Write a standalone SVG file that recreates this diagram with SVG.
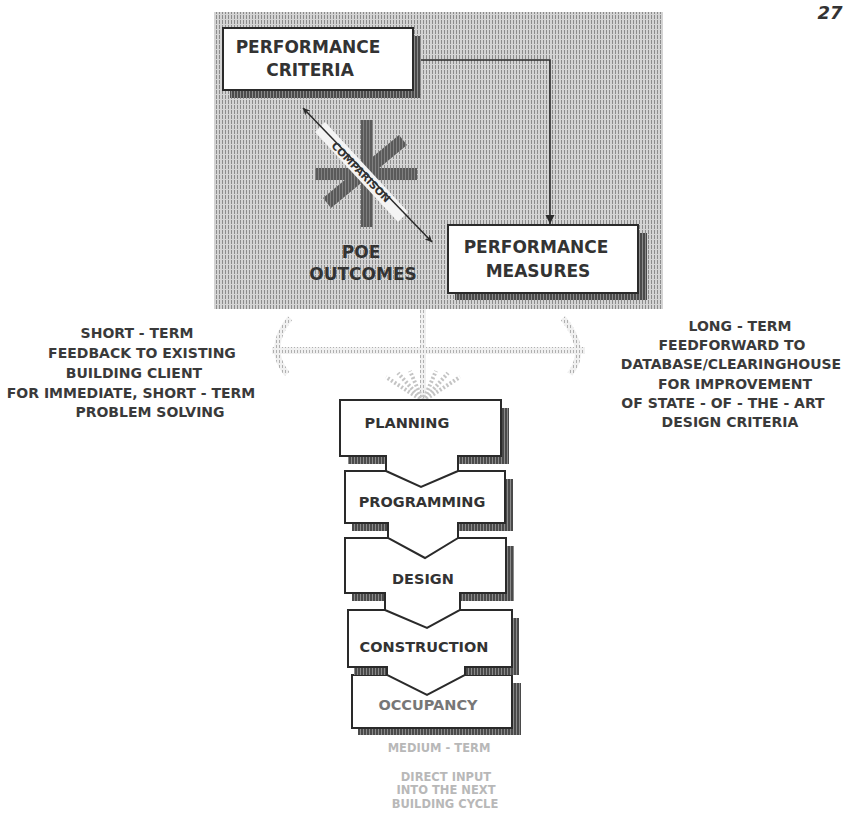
<svg xmlns="http://www.w3.org/2000/svg" width="860" height="815" viewBox="0 0 860 815">
<style>
.t{font-family:"DejaVu Sans","Liberation Sans",sans-serif;font-weight:bold;fill:#333;text-anchor:middle}
.box{fill:#fff;stroke:#2a2a2a;stroke-width:2}
.sh{fill:url(#dark)}
.side{font-size:14px;fill:#3a3a3a}
.big{font-size:17px}
.flow{font-size:14.5px}
.faint{font-size:11.5px;fill:#b8b8b8}
.lh{fill:url(#light)}
</style>
<defs>
<pattern id="hatch" width="3" height="5" patternUnits="userSpaceOnUse"><rect width="3" height="5" fill="#d4d4d4"/><rect width="1" height="4" fill="#8c8c8c"/></pattern>
<pattern id="dark" width="3" height="4" patternUnits="userSpaceOnUse"><rect width="3" height="4" fill="#4a4a4a"/><rect width="1" height="4" fill="#8a8a8a"/></pattern>
<pattern id="asterisk" width="3" height="4" patternUnits="userSpaceOnUse"><rect width="3" height="4" fill="#5a5a5a"/><rect width="1" height="4" fill="#808080"/></pattern>
<pattern id="light" width="3" height="5" patternUnits="userSpaceOnUse"><rect width="3" height="5" fill="#f0f0f0"/><rect width="1" height="3" fill="#b0b0b0"/></pattern>
<marker id="ah" viewBox="0 0 10 10" refX="10" refY="5" markerWidth="9" markerHeight="12" markerUnits="userSpaceOnUse" orient="auto"><path d="M0,0 L10,5 L0,10 Z" fill="#2a2a2a"/></marker>
<marker id="ah2" viewBox="0 0 10 10" refX="10" refY="5" markerWidth="12" markerHeight="7" markerUnits="userSpaceOnUse" orient="auto-start-reverse"><path d="M0,0 L10,5 L0,10 L3,5 Z" fill="#2a2a2a"/></marker>
</defs>
<rect width="860" height="815" fill="#fff"/>
<text x="830" y="19" style="font-family:'DejaVu Sans',sans-serif;font-weight:bold;font-style:italic;font-size:18px;fill:#333;text-anchor:middle">27</text>

<!-- hatched background -->
<rect id="poe-area" x="214" y="12" width="449" height="297" fill="url(#hatch)"/>

<!-- light hatched feedback shapes -->
<g id="feedback-shapes">
<rect class="lh" x="272" y="347" width="313" height="7"/>
<path d="M290,318 Q266,348 287,374" fill="none" stroke="url(#light)" stroke-width="6"/>
<path d="M563,318 Q589,350 570,374" fill="none" stroke="url(#light)" stroke-width="6"/>
<rect class="lh" x="420" y="309" width="6" height="92"/>
<path d="M423,401 L386,377 M423,401 L398,373 M423,401 L410,371 M423,401 L436,371 M423,401 L448,373 M423,401 L460,377" stroke="#c4c4c4" stroke-width="4" stroke-dasharray="2 2" fill="none"/>
</g>

<!-- asterisk -->
<g id="poe-symbol">
<rect x="361" y="120" width="12" height="107" fill="url(#asterisk)"/>
<rect x="315" y="168" width="102" height="12" fill="url(#asterisk)"/>
<polygon points="407,145 399,135 323,198 331,208" fill="url(#asterisk)"/>
</g>

<g id="comparison">
<polygon points="325,122 408,212 398,222 315,132" fill="#f4f4f4"/>
<line x1="303" y1="108" x2="432" y2="242" stroke="#2a2a2a" stroke-width="1.5" marker-start="url(#ah2)" marker-end="url(#ah2)"/>
<text class="t" transform="translate(361,172) rotate(46)" x="0" y="3.8" style="font-size:10.5px">COMPARISON</text>
</g>

<g id="connectors">
<path d="M413,60 H550 V224" fill="none" stroke="#2a2a2a" stroke-width="1.6" marker-end="url(#ah)"/>
</g>

<g id="performance-criteria">
<polygon class="sh" points="413,36 421,36 421,98 230,98 230,90 413,90"/>
<rect class="box" x="223" y="28" width="190" height="62"/>
<text class="t big" x="308" y="53">PERFORMANCE</text>
<text class="t big" x="310" y="76">CRITERIA</text>
</g>

<g id="performance-measures">
<polygon class="sh" points="638,233 647,233 647,300 455,300 455,293 638,293"/>
<rect class="box" x="448" y="225" width="190" height="68"/>
<text class="t big" x="536" y="253">PERFORMANCE</text>
<text class="t big" x="538" y="277">MEASURES</text>
</g>

<g id="poe-outcomes">
<text class="t big" x="361" y="258">POE</text>
<text class="t big" x="363" y="280">OUTCOMES</text>
</g>

<g id="short-term">
<text class="t side" x="137" y="338">SHORT - TERM</text>
<text class="t side" x="142" y="358">FEEDBACK TO EXISTING</text>
<text class="t side" x="134" y="378">BUILDING CLIENT</text>
<text class="t side" x="131" y="398">FOR IMMEDIATE, SHORT - TERM</text>
<text class="t side" x="150" y="417">PROBLEM SOLVING</text>
</g>

<g id="long-term">
<text class="t side" x="740" y="331">LONG - TERM</text>
<text class="t side" x="732" y="350">FEEDFORWARD TO</text>
<text class="t side" x="731" y="369">DATABASE/CLEARINGHOUSE</text>
<text class="t side" x="735" y="389">FOR IMPROVEMENT</text>
<text class="t side" x="723" y="408">OF STATE - OF - THE - ART</text>
<text class="t side" x="730" y="427">DESIGN CRITERIA</text>
</g>

<!-- building cycle stages, drawn bottom-up so arrows overlap -->
<g id="occupancy">
<polygon class="sh" points="512,683 521,683 521,735 358,735 358,728 512,728"/>
<rect class="box" x="352" y="675" width="160" height="53"/>
<text class="t flow" x="428" y="710" style="fill:#777">OCCUPANCY</text>
</g>

<g id="construction">
<polygon class="sh" points="512,618 519,618 519,675 465,675 465,667 512,667"/>
<polygon class="sh" points="354,667 387,667 387,675 354,675"/>
<path class="box" d="M348,610 H512 V667 H465 V675 L427,695 L387,675 V667 H348 Z"/>
<text class="t flow" x="424" y="652">CONSTRUCTION</text>
</g>

<g id="design">
<polygon class="sh" points="506,546 514,546 514,601 460,601 460,593 506,593"/>
<polygon class="sh" points="352,593 385,593 385,601 352,601"/>
<path class="box" d="M345,538 H506 V593 H460 V610 L427,628 L385,610 V593 H345 Z"/>
<text class="t flow" x="423" y="584">DESIGN</text>
</g>

<g id="programming">
<polygon class="sh" points="505,479 513,479 513,531 458,531 458,523 505,523"/>
<polygon class="sh" points="352,523 388,523 388,531 352,531"/>
<path class="box" d="M345,471 H505 V523 H458 V538 L425,558 L388,538 V523 H345 Z"/>
<text class="t flow" x="422" y="507">PROGRAMMING</text>
</g>

<g id="planning">
<polygon class="sh" points="501,408 509,408 509,464 458,464 458,456 501,456"/>
<polygon class="sh" points="348,456 386,456 386,464 348,464"/>
<path class="box" d="M340,400 H501 V456 H458 V471 L421,487 L386,471 V456 H340 Z"/>
<text class="t flow" x="407" y="428">PLANNING</text>
</g>

<g id="medium-term">
<text class="t faint" x="439" y="752">MEDIUM - TERM</text>
<text class="t faint" x="446" y="781">DIRECT INPUT</text>
<text class="t faint" x="446" y="794">INTO THE NEXT</text>
<text class="t faint" x="445" y="808">BUILDING CYCLE</text>
</g>
</svg>
